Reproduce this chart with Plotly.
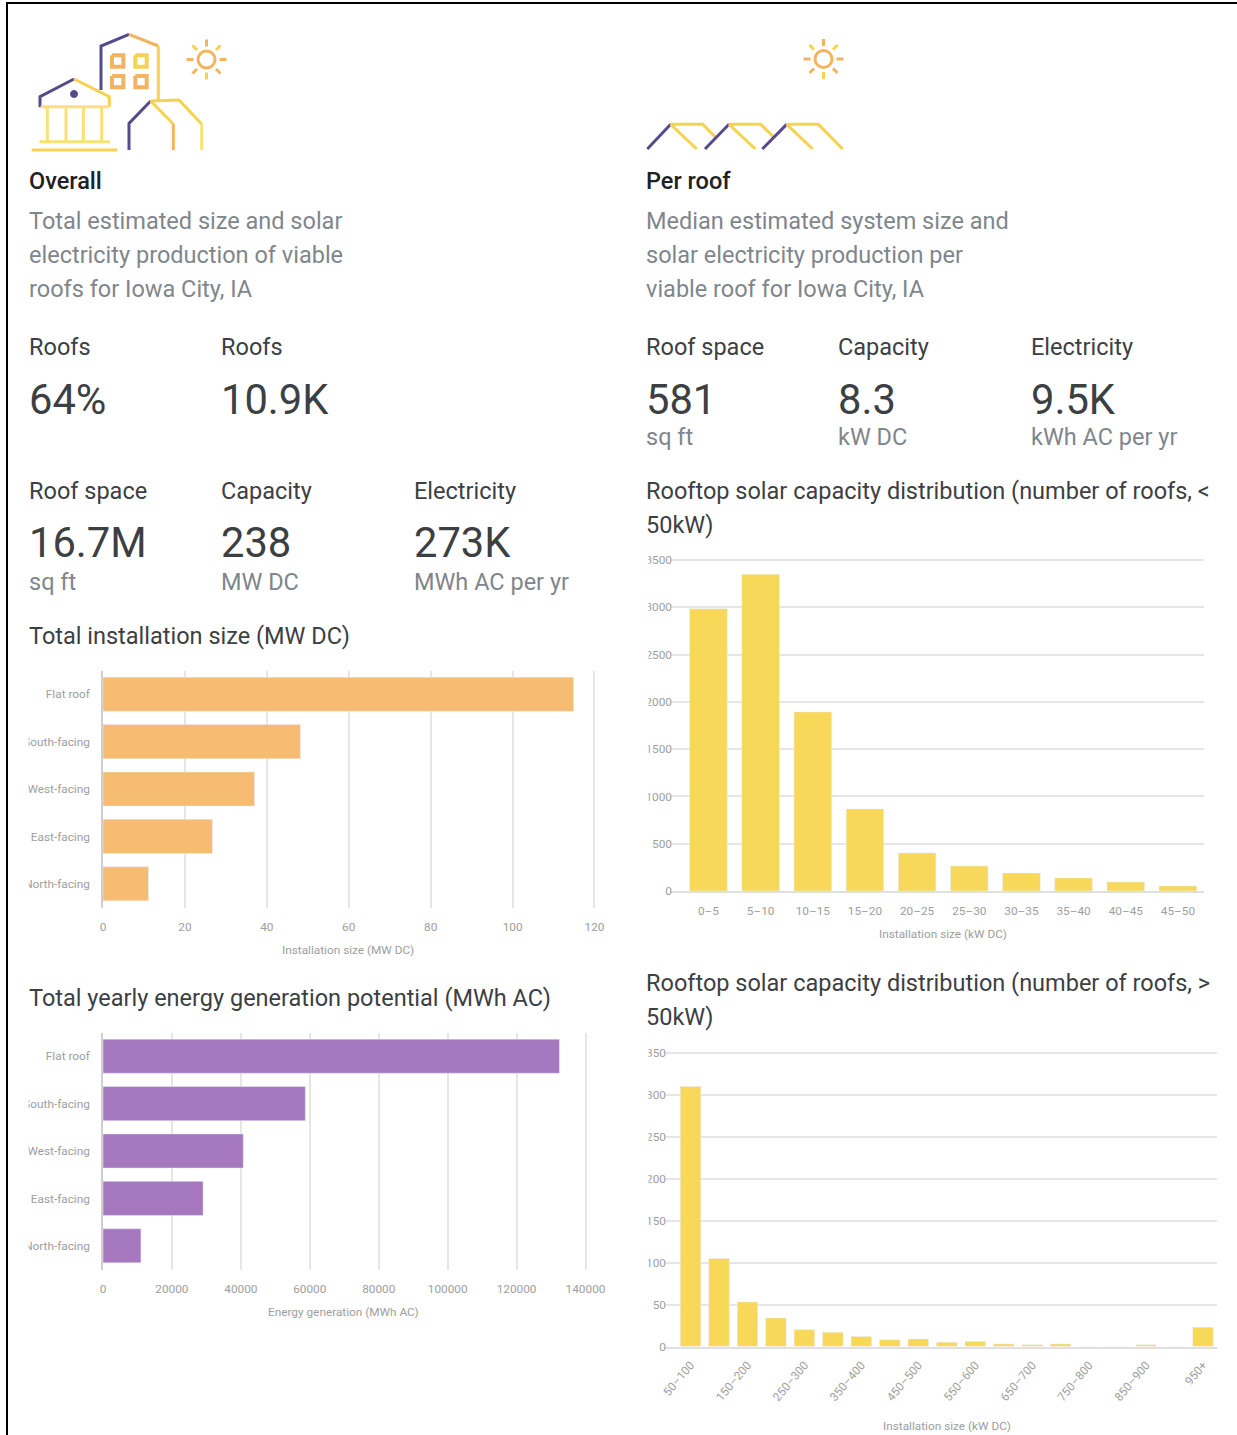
import plotly.graph_objects as go

W, H = 1237, 1435

# chart data
facing = ["Flat roof", "South-facing", "West-facing", "East-facing", "North-facing"]
install_mw = [114.9, 48.2, 37, 26.7, 11.1]
energy_mwh = [132450, 58700, 40700, 29050, 11000]

small_bins = ["0–5", "5–10", "10–15", "15–20", "20–25", "25–30", "30–35", "35–40", "40–45", "45–50"]
small_roofs = [2985, 3350, 1893, 867, 402, 264, 190, 137, 95, 53]

large_bins = ["50–100", "100–150", "150–200", "200–250", "250–300", "300–350", "350–400",
              "400–450", "450–500", "500–550", "550–600", "600–650", "650–700", "700–750",
              "750–800", "800–850", "850–900", "900–950", "950+"]
large_roofs = [310, 105, 53, 34, 20, 17, 12, 8, 9, 5, 6, 3, 2, 3, 0, 0, 2, 0, 23]
large_ticks = large_bins[::2]

ORANGE = "#f5bc72"
VIOLET = "#a678c0"
YELLOW = "#f7d859"
PURPLE = "#574a8c"
ICON_YELLOW = "#f7d24f"
ICON_LIGHT = "#fbe07a"
ICON_ORANGE = "#f4b45f"
DARK = "#3c4043"
GREY = "#80868b"
TICK = "#9e9e9e"
GRID = "#e6e6e6"
FONT = "Roboto"


def px(x):
    return x / W


def py(y):
    return 1 - y / H


def dom_x(a, b):
    return [px(a), px(b)]


def dom_y(top, bottom):
    return [py(bottom), py(top)]


fig = go.Figure()

# horizontal bars
fig.add_trace(go.Bar(x=install_mw, y=facing, orientation="h", marker_color=ORANGE, width=0.72,
                     xaxis="x", yaxis="y"))
fig.add_trace(go.Bar(x=energy_mwh, y=facing, orientation="h", marker_color=VIOLET, width=0.72,
                     xaxis="x2", yaxis="y2"))
# vertical bars
fig.add_trace(go.Bar(x=small_bins, y=small_roofs, marker_color=YELLOW, width=0.72,
                     xaxis="x3", yaxis="y3"))
fig.add_trace(go.Bar(x=large_bins, y=large_roofs, marker_color=YELLOW, width=0.72,
                     xaxis="x4", yaxis="y4"))

tick_font = dict(family=FONT, size=11.8, color=TICK)


def h_axes(xdom, ydom, xmax, dtick):
    xa = dict(domain=xdom, range=[0, xmax], dtick=dtick, showgrid=True, gridcolor=GRID, gridwidth=1.5,
              zeroline=False, tickfont=tick_font, ticks="outside", ticklen=8, tickcolor="rgba(0,0,0,0)",
              tickformat="d", showline=False)
    ya = dict(domain=ydom, autorange="reversed", showgrid=False, zeroline=False, tickfont=tick_font,
              showline=True, linecolor="#cfcfcf", linewidth=1.5, ticks="outside", ticklen=9,
              tickcolor="rgba(0,0,0,0)")
    return xa, ya


def v_axes(xdom, ydom, xrange, ymax, dtick, tickvals, angle, xlen):
    xa = dict(domain=xdom, range=xrange, type="category", showgrid=False, zeroline=False, tickfont=tick_font,
              showline=True, linecolor="#e0e0e0", linewidth=2, tickvals=tickvals, tickangle=angle,
              ticks="outside", ticklen=xlen, tickcolor="rgba(0,0,0,0)")
    ya = dict(domain=ydom, range=[0, ymax], dtick=dtick, showgrid=True, gridcolor=GRID, gridwidth=1.5,
              zeroline=False, tickfont=tick_font, ticks="", ticklabelstandoff=-2, tickformat="d")
    return xa, ya


# ranges run a hair past the last tick so its gridline is kept
x1, y1 = h_axes(dom_x(103, 596), dom_y(670.5, 907.5), 120.37, 20)
x2, y2 = h_axes(dom_x(103, 587), dom_y(1032.5, 1269.5), 140435, 20000)
x3, y3 = v_axes(dom_x(671, 1204), dom_y(558.5, 891), [-0.718, 9.5], 3516, 500, small_bins, 0, 8)
x4, y4 = v_axes(dom_x(665, 1217.2), dom_y(1051.5, 1346.5), [-0.897, 18.5], 351.8, 50, large_ticks, -50, 5)

fig.update_layout(
    width=W, height=H, margin=dict(l=0, r=0, t=0, b=0, pad=0, autoexpand=False), autosize=False,
    paper_bgcolor="white", plot_bgcolor="white", showlegend=False, bargap=0.28,
    font=dict(family=FONT),
    xaxis=x1, yaxis=dict(y1, anchor="x"),
    xaxis2=dict(x2, anchor="y2"), yaxis2=dict(y2, anchor="x2"),
    xaxis3=dict(x3, anchor="y3"), yaxis3=dict(y3, anchor="x3"),
    xaxis4=dict(x4, anchor="y4"), yaxis4=dict(y4, anchor="x4"),
)

# text blocks: text, left x, centre y, size, colour, weight
B1 = 23.5
B2 = 41.7
texts = [
    ("Overall", 28, 181, B1, "#202124", 500),
    ("Total estimated size and solar", 28, 221, B1, GREY, 400),
    ("electricity production of viable", 28, 255.5, B1, GREY, 400),
    ("roofs for Iowa City, IA", 28, 289, B1, GREY, 400),
    ("Roofs", 28, 347, B1, DARK, 400),
    ("Roofs", 220, 347, B1, DARK, 400),
    ("64%", 28, 399, B2, DARK, 400),
    ("10.9K", 220, 399, B2, DARK, 400),
    ("Roof space", 28, 491, B1, DARK, 400),
    ("Capacity", 220, 491, B1, DARK, 400),
    ("Electricity", 413, 491, B1, DARK, 400),
    ("16.7M", 28, 543, B2, DARK, 400),
    ("238", 220, 543, B2, DARK, 400),
    ("273K", 413, 543, B2, DARK, 400),
    ("sq ft", 28, 582, B1, GREY, 400),
    ("MW DC", 220, 582, B1, GREY, 400),
    ("MWh AC per yr", 413, 582, B1, GREY, 400),
    ("Total installation size (MW DC)", 28, 636, B1, DARK, 400),
    ("Total yearly energy generation potential (MWh AC)", 28, 998, B1, DARK, 400),
    ("Per roof", 645, 181, B1, "#202124", 500),
    ("Median estimated system size and", 645, 221, B1, GREY, 400),
    ("solar electricity production per", 645, 255.5, B1, GREY, 400),
    ("viable roof for Iowa City, IA", 645, 289, B1, GREY, 400),
    ("Roof space", 645, 347, B1, DARK, 400),
    ("Capacity", 837, 347, B1, DARK, 400),
    ("Electricity", 1030, 347, B1, DARK, 400),
    ("581", 645, 399, B2, DARK, 400),
    ("8.3", 837, 399, B2, DARK, 400),
    ("9.5K", 1030, 399, B2, DARK, 400),
    ("sq ft", 645, 437, B1, GREY, 400),
    ("kW DC", 837, 437, B1, GREY, 400),
    ("kWh AC per yr", 1030, 437, B1, GREY, 400),
    ("Rooftop solar capacity distribution (number of roofs, <", 645, 491, B1, DARK, 400),
    ("50kW)", 645, 525.5, B1, DARK, 400),
    ("Rooftop solar capacity distribution (number of roofs, >", 645, 983, B1, DARK, 400),
    ("50kW)", 645, 1017.5, B1, DARK, 400),
]
for t, x, y, size, color, weight in texts:
    fig.add_annotation(text=t, x=px(x), y=py(y), xref="paper", yref="paper", xanchor="left", yanchor="middle",
                       showarrow=False, borderpad=0, font=dict(family=FONT, size=size, color=color, weight=weight))

axis_titles = [
    ("Installation size (MW DC)", 348, 950),
    ("Energy generation (MWh AC)", 343, 1312),
    ("Installation size (kW DC)", 943, 934),
    ("Installation size (kW DC)", 946.5, 1426),
]
for t, x, y in axis_titles:
    fig.add_annotation(text=t, x=px(x), y=py(y), xref="paper", yref="paper", xanchor="center", yanchor="middle",
                       showarrow=False, borderpad=0, font=dict(family=FONT, size=11.8, color=TICK))

shapes = []


def poly(points, color, width=3):
    path = "M " + " L ".join(f"{px(a):.5f},{py(b):.5f}" for a, b in points)
    shapes.append(dict(type="path", path=path, xref="paper", yref="paper", line=dict(color=color, width=width)))


def circle(cx, cy, r, line, fill="rgba(0,0,0,0)", width=3):
    shapes.append(dict(type="circle", xref="paper", yref="paper", x0=px(cx - r), x1=px(cx + r),
                       y0=py(cy + r), y1=py(cy - r), line=dict(color=line, width=width), fillcolor=fill))


def sun(cx, cy):
    circle(cx, cy, 8.5, ICON_ORANGE)
    rays = [(0, -20, 0, -13, ICON_ORANGE), (0, 13, 0, 20, ICON_YELLOW), (-20, 0, -13, 0, ICON_ORANGE),
            (13, 0, 20, 0, ICON_ORANGE), (-14, -14, -9.5, -9.5, ICON_YELLOW), (9.5, -9.5, 14, -14, ICON_YELLOW),
            (-14, 14, -9.5, 9.5, ICON_ORANGE), (9.5, 9.5, 14, 14, ICON_ORANGE)]
    for a, b, c, d, col in rays:
        poly([(cx + a, cy + b), (cx + c, cy + d)], col)


def z1(*pts):
    # first zoomed crop was 3x from the page origin
    return [(a / 3, b / 3) for a, b in pts]


def z2(*pts):
    return [(630 + a / 3, 20 + b / 3) for a, b in pts]


# overall icon
poly(z1((120, 322), (120, 290), (222, 237)), PURPLE)
poly(z1((222, 237), (328, 290), (328, 320)), ICON_YELLOW)
poly(z1((122, 320), (328, 320)), ICON_LIGHT)
for cx in (142, 198, 250, 305):
    poly(z1((cx, 320), (cx, 425)), ICON_LIGHT)
poly(z1((118, 425), (330, 425)), ICON_LIGHT)
poly(z1((95, 450), (352, 450)), ICON_YELLOW)
circle(74, 94, 3.5, PURPLE, PURPLE, 1)
poly(z1((303, 270), (303, 138), (387, 103)), PURPLE)
poly(z1((387, 103), (475, 138)), ICON_ORANGE)
poly(z1((475, 138), (475, 300)), ICON_YELLOW)
for wx, wy, col in [(353, 183, ICON_ORANGE), (423, 183, ICON_YELLOW), (353, 245, ICON_ORANGE), (423, 245, ICON_ORANGE)]:
    poly(z1((wx - 17, wy - 17), (wx + 17, wy - 17), (wx + 17, wy + 17), (wx - 17, wy + 17), (wx - 17, wy - 17)), col, 4)
poly(z1((387, 450), (387, 370), (452, 303)), PURPLE)
poly(z1((452, 303), (537, 300), (605, 372)), ICON_YELLOW)
poly(z1((605, 372), (605, 450)), ICON_LIGHT)
poly(z1((452, 303), (520, 372)), ICON_YELLOW)
poly(z1((520, 372), (520, 450)), ICON_ORANGE)
sun(206.5, 59.5)

# per roof icon
sun(823.5, 59)
poly(z2((52, 387), (122, 313)), PURPLE)
poly(z2((122, 313), (218, 313), (255, 350)), ICON_YELLOW)
poly(z2((122, 313), (200, 387)), ICON_YELLOW)
poly(z2((225, 387), (297, 313)), PURPLE)
poly(z2((297, 313), (392, 313), (430, 350)), ICON_YELLOW)
poly(z2((297, 313), (376, 387)), ICON_YELLOW)
poly(z2((397, 387), (470, 313)), PURPLE)
poly(z2((470, 313), (565, 313), (638, 387)), ICON_YELLOW)
poly(z2((470, 313), (548, 387)), ICON_YELLOW)


def white_rect(x0, y0, x1_, y1_):
    shapes.append(dict(type="rect", xref="paper", yref="paper", x0=px(x0), x1=px(x1_), y0=py(y1_), y1=py(y0),
                       fillcolor="white", line=dict(width=0), layer="above"))


# the source screenshot cuts the long tick labels off
white_rect(8, 660, 28.5, 910)
white_rect(8, 1025, 28.5, 1275)
white_rect(625, 550, 648.5, 900)
white_rect(625, 1045, 648.5, 1355)

# screenshot frame
shapes.append(dict(type="line", xref="paper", yref="paper", x0=px(7), x1=px(7), y0=0, y1=py(3),
                   line=dict(color="black", width=2)))
shapes.append(dict(type="line", xref="paper", yref="paper", x0=px(6), x1=1, y0=py(3), y1=py(3),
                   line=dict(color="black", width=2)))

fig.update_layout(shapes=shapes)

fig.write_html("out.html", config={"displayModeBar": False},
               post_script="document.body.style.margin='0';")
